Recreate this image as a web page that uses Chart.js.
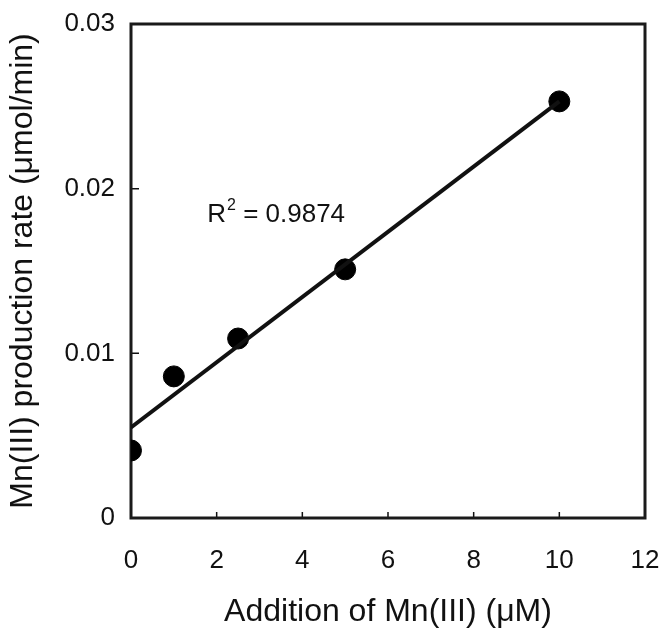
<!DOCTYPE html>
<html>
<head>
  <meta charset="utf-8">
  <title>Mn(III) production rate</title>
  <script src="https://cdn.jsdelivr.net/npm/chart.js"></script>
  <style>
    body { margin: 0; background: #fff; }
    #wrap { width: 663px; height: 631px; }
  </style>
</head>
<body>
  <div id="wrap"><canvas id="chart" width="663" height="631"></canvas></div>

  <script>
    // values
    const addedMn = [0, 1, 2.5, 5, 10];
    const rate    = [0.0041, 0.0086, 0.0109, 0.0151, 0.0253];
    const fitX    = [0, 10];
    const fitY    = [0.0055, 0.0253];
    const xTicks  = [0, 2, 4, 6, 8, 10, 12];
    const yTicks  = [0, 0.01, 0.02, 0.03];
    const r2Text  = "0.9874";

    const FONT = "'Liberation Sans', Arial, sans-serif";

    // box around plot + inward tick marks + R² note
    const frame = {
      id: 'frame',
      beforeDatasetsDraw(chart) {
        const { ctx, chartArea: a, scales: { x, y } } = chart;
        ctx.save();
        ctx.strokeStyle = '#111';
        ctx.lineWidth = 1.5;
        ctx.beginPath();
        xTicks.slice(1, -1).forEach(v => {
          const px = x.getPixelForValue(v);
          ctx.moveTo(px, a.bottom); ctx.lineTo(px, a.bottom - 6);
        });
        yTicks.slice(1, -1).forEach(v => {
          const py = y.getPixelForValue(v);
          ctx.moveTo(a.left, py); ctx.lineTo(a.left + 8, py);
        });
        ctx.stroke();
        ctx.lineWidth = 3;
        ctx.strokeStyle = '#1a1a1a';
        ctx.strokeRect(a.left, a.top, a.right - a.left, a.bottom - a.top);
        ctx.restore();
      },
      afterDatasetsDraw(chart) {
        const { ctx, scales: { x, y } } = chart;
        const px = x.getPixelForValue(1.78);
        const py = y.getPixelForValue(0.0180);
        ctx.save();
        ctx.fillStyle = '#111';
        ctx.textBaseline = 'alphabetic';
        ctx.font = '26px ' + FONT;
        ctx.fillText('R', px, py);
        let w = ctx.measureText('R').width;
        ctx.font = '16px ' + FONT;
        ctx.fillText('2', px + w + 1, py - 12);
        w += ctx.measureText('2').width + 1;
        ctx.font = '26px ' + FONT;
        ctx.fillText(' = ' + r2Text, px + w, py);
        ctx.restore();
      }
    };

    window.onload = () => {
      const ctx = document.getElementById('chart').getContext('2d');
      new Chart(ctx, {
        type: 'scatter',
        data: {
          datasets: [
            {
              label: 'fit',
              type: 'line',
              data: fitX.map((v, i) => ({ x: v, y: fitY[i] })),
              borderColor: '#111',
              borderWidth: 4,
              pointRadius: 0,
              fill: false
            },
            {
              label: 'Mn(III)',
              data: addedMn.map((v, i) => ({ x: v, y: rate[i] })),
              backgroundColor: '#000',
              borderColor: '#000',
              pointRadius: 10.5,
              pointHoverRadius: 10.5
            }
          ]
        },
        options: {
          responsive: false,
          animation: false,
          layout: { padding: { top: 24, right: 18, left: 0, bottom: 0 } },
          plugins: { legend: { display: false }, tooltip: { enabled: false } },
          scales: {
            x: {
              type: 'linear', min: 0, max: 12,
              afterBuildTicks: s => { s.ticks = xTicks.map(v => ({ value: v })); },
              grid: { display: false },
              border: { display: false },
              ticks: { color: '#111', font: { family: FONT, size: 26 }, padding: 19, maxRotation: 0 },
              title: { display: true, text: 'Addition of Mn(III) (\u03bcM)', color: '#111',
                       font: { family: FONT, size: 32 }, padding: { top: 10, bottom: 0 } },
              afterFit: s => { s.height = 113; s.paddingLeft = 0; s.paddingRight = 0; }
            },
            y: {
              type: 'linear', min: 0, max: 0.03,
              afterBuildTicks: s => { s.ticks = yTicks.map(v => ({ value: v })); },
              grid: { display: false },
              border: { display: false },
              ticks: { color: '#111', font: { family: FONT, size: 26 }, padding: 8,
                       callback: v => v === 0 ? '0' : v.toFixed(2) },
              title: { display: true, text: 'Mn(III) production rate (\u03bcmol/min)', color: '#111',
                       font: { family: FONT, size: 32 }, padding: { top: 4, bottom: 4 } },
              afterFit: s => { s.width = 131; s.paddingTop = 0; s.paddingBottom = 0; }
            }
          }
        },
        plugins: [frame]
      });
    };
  </script>
</body>
</html>
